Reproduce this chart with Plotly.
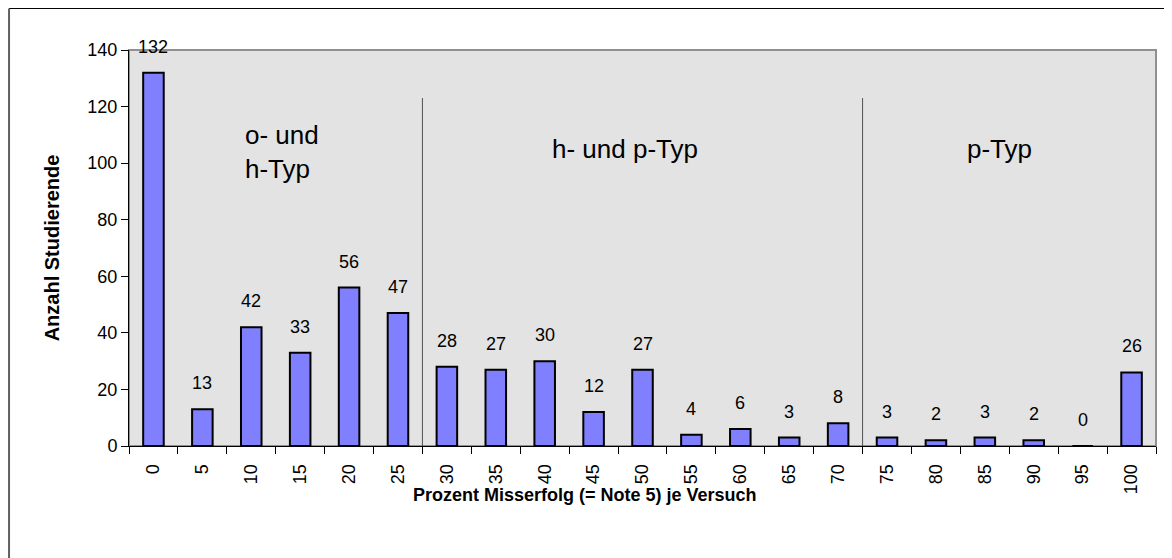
import plotly.graph_objects as go

# Prozent Misserfolg je Versuch (Kategorien) und Anzahl Studierende
categories = ["0", "5", "10", "15", "20", "25", "30", "35", "40", "45", "50",
              "55", "60", "65", "70", "75", "80", "85", "90", "95", "100"]
counts = [132, 13, 42, 33, 56, 47, 28, 27, 30, 12, 27, 4, 6, 3, 8, 3, 2, 3, 2, 0, 26]

group_labels = ["o- und<br>h-Typ", "h- und p-Typ", "p-Typ"]
group_x = [1.83, 9.64, 17.3]
group_y = [104, 105, 105]
divider_x = [5.5, 14.5]
divider_top = 123

font = "Liberation Sans, Arial, sans-serif"

fig = go.Figure()
fig.add_trace(go.Bar(
    x=categories,
    y=counts,
    marker=dict(color="#8080FF", line=dict(color="black", width=2)),
    width=0.42,
    showlegend=False,
    hoverinfo="x+y",
))

# value labels above the bars (x as category index)
for i, val in enumerate(counts):
    fig.add_annotation(
        x=i, y=val, text=str(val), showarrow=False,
        yanchor="bottom", yshift=14,
        font=dict(family=font, size=18, color="black"),
    )

# group texts
for lbl, gx, gy in zip(group_labels, group_x, group_y):
    fig.add_annotation(
        x=gx, y=gy, text=lbl, showarrow=False, align="left",
        xanchor="left" if "<br>" in lbl else "center",
        font=dict(family=font, size=26, color="black"),
    )

# divider lines
for dx in divider_x:
    fig.add_shape(type="line", xref="x", yref="y", x0=dx, x1=dx, y0=0, y1=divider_top,
                  line=dict(color="#505050", width=1))

# plot area border (top/right grey)
fig.add_shape(type="rect", xref="paper", yref="paper", x0=0, x1=1, y0=0, y1=1,
              line=dict(color="#909090", width=2), layer="below")

# outer chart border
fig.add_shape(type="line", xref="paper", yref="paper", x0=-0.1168, x1=1.2, y0=1.1048, y1=1.1048,
              line=dict(color="black", width=1))
fig.add_shape(type="line", xref="paper", yref="paper", x0=-0.1168, x1=-0.1168, y0=1.1048, y1=-0.5,
              line=dict(color="#606060", width=2))

# x title
fig.add_annotation(
    xref="paper", yref="paper", x=0.444, y=-0.1237, yanchor="middle",
    text="<b>Prozent Misserfolg (= Note 5) je Versuch</b>", showarrow=False,
    font=dict(family=font, size=18, color="black"),
)

fig.update_layout(
    width=1172, height=558,
    margin=dict(l=121, r=24, t=42, b=120),
    paper_bgcolor="white",
    plot_bgcolor="#E3E3E3",
    font=dict(family=font, size=18, color="black"),
    xaxis=dict(
        type="category", range=[-0.5, 20.5],
        tickangle=-90, ticks="outside", ticklen=7, tickcolor="black",
        tickson="boundaries", showline=True, linecolor="black", linewidth=1,
        showgrid=False, zeroline=False, ticklabelstandoff=10,
        tickfont=dict(family=font, size=18),
    ),
    yaxis=dict(
        range=[0, 140], dtick=20, ticks="outside", ticklen=7, tickcolor="black",
        showline=True, linecolor="black", linewidth=1, showgrid=False, zeroline=False,
        tickfont=dict(family=font, size=18),
        title=dict(text="<b>Anzahl Studierende</b>", font=dict(family=font, size=20), standoff=22),
    ),
)

fig.write_html("out.html")
